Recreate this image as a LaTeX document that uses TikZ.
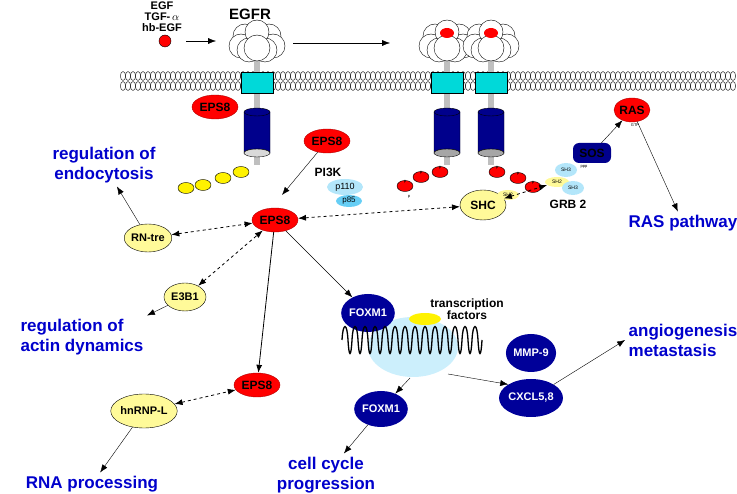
\documentclass[tikz,border=0pt]{standalone}
\usepackage{fontspec}
\setmainfont{Liberation Sans}
\usetikzlibrary{arrows.meta,shapes.geometric}
\tikzset{
  epsnode/.style={ellipse, fill=red, draw=red!70!black, inner sep=0pt, minimum width=46pt, minimum height=24pt, font=\fontsize{12}{12}\selectfont\bfseries},
  yelnode/.style={ellipse, fill=yellow!40, draw=black, inner sep=0pt, minimum width=42pt, minimum height=28pt, font=\fontsize{11}{11}\selectfont\bfseries},
  bluenode/.style={ellipse, fill=blue!60!black, text=white, inner sep=0pt, minimum width=48pt, minimum height=38pt, font=\fontsize{11}{11}\selectfont\bfseries},
  cyannode/.style={ellipse, fill=cyan!30, inner sep=0pt, font=\fontsize{7}{7}\selectfont},
  bluetext/.style={text=blue!80!black, align=center, font=\fontsize{17}{20}\selectfont\bfseries},
  blacktext/.style={align=center, font=\fontsize{12}{12}\selectfont\bfseries},
  arr/.style={-{Latex[length=8pt,width=6pt]}, thin},
  darr/.style={{Latex[length=8pt,width=6pt]}-{Latex[length=8pt,width=6pt]}, dashed, thick}
}
\newcommand{\receptor}[3]{%
  % stem and membrane box
  \fill[gray!50] (#1-3,55) rectangle (#1+3,165);
  \foreach \dx/\dy in {-12/-4,12/-4,-16/6,16/6,-8/10,8/10,0/-8}
    \draw[fill=white] (#1+\dx,40+\dy) circle (12);
  \draw[fill=white] (#1,48) circle (13);
  \ifnum#2=1 \fill[red] (#1,33) ellipse (7 and 5); \fi
  \draw[fill=teal!30!cyan] (#1-16,72) rectangle (#1+16,93);
  \draw[fill=blue!55!black] (#1-13,112) -- (#1-13,153) arc[start angle=180,end angle=360,x radius=13,y radius=4] -- (#1+13,112);
  \draw[fill=blue!55!black] (#1,112) ellipse (13 and 4);
  \draw[fill=#3] (#1,153) ellipse (13 and 4);
}
\begin{document}
\begin{tikzpicture}[x=1pt,y=-1pt]
\useasboundingbox (0,0) rectangle (737,494);

%% membrane
\fill[white] (120,70) rectangle (737,92);
\foreach \i in {0,...,122} {
  \draw[line width=0.4pt] (123+5*\i,76) ellipse (2.6 and 4.5);
  \draw[line width=0.4pt] (123+5*\i,86) ellipse (2.6 and 4.5);
}

%% receptors
\receptor{257}{0}{gray!30}
\receptor{447}{1}{gray!70}
\receptor{491}{1}{gray!70}

%% ligand
\node[blacktext, font=\fontsize{11}{11}\selectfont\bfseries] (ligands) at (162,17) {EGF\\TGF-\,$\alpha$\\hb-EGF};
\node[circle, fill=red, draw=black, minimum size=12pt, inner sep=0pt] (egf) at (165,41) {};
\node[font=\fontsize{15}{15}\selectfont\bfseries] (egfr) at (250,14) {EGFR};
\coordinate (l1) at (186,41); \coordinate (l2) at (216,41);
\draw[arr] (l1) -- (l2);
\coordinate (d1) at (293,43); \coordinate (d2) at (390,43);
\draw[arr] (d1) -- (d2);

%% phosphotyrosines
\foreach \x/\y in {241/172,223/178,203/185,186/188}
  \draw[fill=yellow] (\x,\y) ellipse (8 and 5.5);
\foreach \x/\y in {440/172,421/177,405/186}
  {\draw[fill=red] (\x,\y) ellipse (8 and 5.5); \node[font=\fontsize{4}{4}\selectfont] at (\x,\y-4) {p};}
\foreach \x/\y in {497/172,518/178,533/187}
  {\draw[fill=red] (\x,\y) ellipse (8 and 5.5); \node[font=\fontsize{4}{4}\selectfont] at (\x,\y-4) {p};}
\node[font=\fontsize{4}{4}\selectfont] at (409,197) {p};

%% signalling nodes
\node[epsnode] (eps8a) at (215,107) {EPS8};
\node[epsnode] (eps8b) at (327,141) {EPS8};
\node[epsnode] (eps8c) at (275,220) {EPS8};
\node[epsnode] (eps8d) at (257,385) {EPS8};
\node[blacktext] (pi3k) at (328,172) {PI3K};
\node[cyannode, minimum width=36pt, minimum height=16pt, font=\fontsize{9}{9}\selectfont] (p110) at (345,187) {p110};
\node[cyannode, fill=cyan!60, minimum width=26pt, minimum height=12pt, font=\fontsize{8}{8}\selectfont] (p85) at (349,201) {p85};
\coordinate (pi3kin) at (282,195);
\draw[arr] (eps8b) -- (pi3kin);

\node[yelnode, minimum width=46pt, minimum height=30pt, font=\fontsize{12}{12}\selectfont\bfseries] (shc) at (483,205) {SHC};
\node[cyannode, fill=yellow!40, minimum width=22pt, minimum height=10pt, font=\fontsize{5}{5}\selectfont] (sh2a) at (508,195) {SH2};
\node[cyannode, minimum width=22pt, minimum height=14pt, font=\fontsize{5}{5}\selectfont] (sh3a) at (566,170) {SH3};
\node[cyannode, fill=yellow!40, minimum width=24pt, minimum height=10pt, font=\fontsize{5}{5}\selectfont] (sh2b) at (557,182) {SH2};
\node[cyannode, minimum width=22pt, minimum height=14pt, font=\fontsize{5}{5}\selectfont] (sh3b) at (573,188) {SH3};
\node[font=\fontsize{4}{4}\selectfont] (ppp) at (584,167) {ppp};
\node[blacktext, font=\fontsize{12}{12}\selectfont\bfseries] (grb2) at (568,204) {GRB 2};
\node[rounded corners=6pt, fill=blue!55!black, text=black, minimum width=38pt, minimum height=20pt, font=\fontsize{12}{12}\selectfont\bfseries] (sos) at (592,153) {SOS};
\node[epsnode, minimum width=36pt] (ras) at (632,110) {RAS};
\node[font=\fontsize{4}{4}\selectfont] (gtp) at (635,125) {GTP};

\node[yelnode] (rntre) at (148,238) {RN-tre};
\node[yelnode] (e3b1) at (185,297) {E3B1};
\node[yelnode, minimum width=46pt, minimum height=34pt] (hnrnp) at (144,411) {hnRNP-L};

%% nucleus part
\fill[cyan!20] (413,347) ellipse (45 and 30);
\node[bluenode] (foxm1a) at (368,313) {FOXM1};
\fill[yellow] (425,319) ellipse (16 and 6);
\node[blacktext] (tf) at (467,309) {transcription\\factors};
\draw[line width=1.3pt] (342,340) \foreach \k in {0,...,13} { .. controls +(1,-18) and +(-1,-18) .. ++(6,0) .. controls +(1,18) and +(-1,18) .. ++(4,0) };
\node[bluenode, minimum width=42pt, minimum height=36pt] (foxm1b) at (381,409) {FOXM1};
\node[bluenode, minimum width=46pt, minimum height=38pt] (mmp9) at (531,353) {MMP-9};
\node[bluenode, minimum width=46pt, minimum height=38pt] (cxcl) at (531,398) {CXCL5,8};

%% outcomes
\node[bluetext] (endo) at (104,165) {regulation of\\endocytosis};
\node[bluetext, align=left] (actin) at (82,337) {regulation of\\actin dynamics};
\node[bluetext] (rna) at (92,484) {RNA processing};
\node[bluetext] (cycle) at (326,475) {cell cycle\\progression};
\node[bluetext] (raspw) at (683,223) {RAS pathway};
\node[bluetext, align=left] (angio) at (683,340) {angiogenesis\\metastasis};

%% connectors
\draw[darr] (rntre) -- (eps8c);
\draw[darr] (e3b1) -- (eps8c);
\draw[darr] (eps8c) -- (shc);
\draw[darr] (shc) -- (sh2b);
\draw[darr] (hnrnp) -- (eps8d);
\draw[arr, thick] (eps8c) -- (eps8d);
\draw[arr] (eps8c) -- (foxm1a);
\draw[arr] (rntre) -- (endo);
\draw[arr] (e3b1) -- (actin.north east);
\draw[arr] (hnrnp) -- (rna);
\draw[arr] (sos) -- (ras);
\draw[arr] (ras) -- (raspw);
\coordinate (cyan1) at (410,378); \coordinate (cyan2) at (448,374);
\draw[arr] (cyan1) -- (foxm1b);
\draw[arr] (cyan2) -- (cxcl.north west);
\draw[arr] (foxm1b) -- (cycle);
\draw[arr] (cxcl.north east) -- (angio.west);
\end{tikzpicture}
\end{document}
